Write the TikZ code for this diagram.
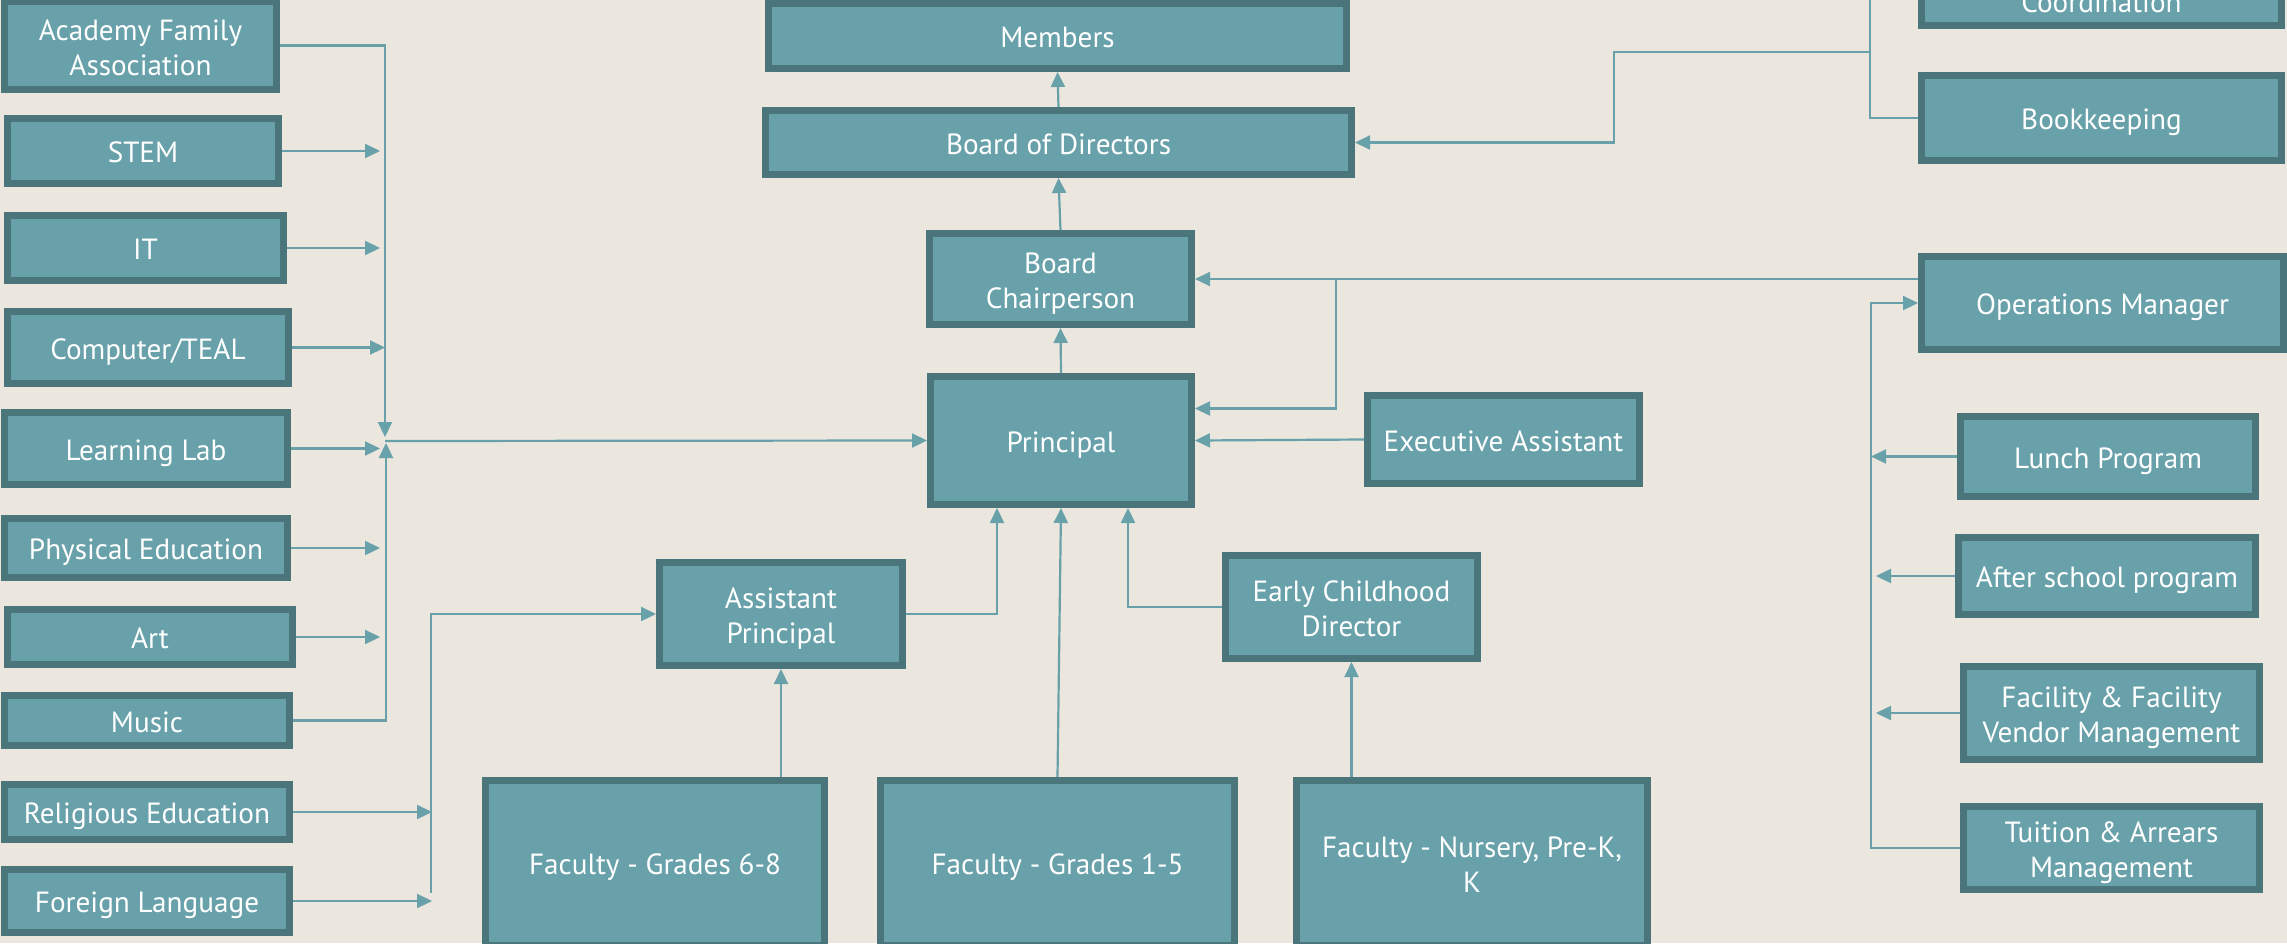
\documentclass[tikz,border=0pt]{standalone}
\usepackage{fontspec}
\setmainfont{PT Sans}
\usetikzlibrary{arrows.meta}
\definecolor{bgc}{RGB}{235,231,222}
\definecolor{fillc}{RGB}{104,161,170}
\definecolor{edgec}{RGB}{74,117,123}
\definecolor{linec}{RGB}{104,161,170}
\newcommand\mystrut{\rule[-7.4pt]{0pt}{38.4pt}}
\newcommand\mystrute{\rule[-7.4pt]{0pt}{1pt}}
\newcommand\twol[2]{\begin{tabular}{@{}c@{}}\rule{0pt}{35pt}#1\\#2\end{tabular}}
\newcommand\mybox[7]{\node[#1, minimum width={#4-#3-7}, minimum height={#6-#5-7}] (#2) at ({(#3+#4)/2},{(#5+#6)/2}) {#7};}
\begin{document}
\begin{tikzpicture}[x=1pt,y=-1pt,
 box/.style={draw=edgec, fill=fillc, line width=7pt, text=white, inner sep=0pt, align=center,
   font=\fontsize{29.2}{35}\selectfont,
   execute at begin node=\mystrut, execute at end node=\mystrute},
 conn/.style={draw=linec, line width=2.2pt},
 arr/.style={conn, -{Triangle[length=15pt,width=14pt]}}]
\useasboundingbox (0,0) rectangle (2287,943);
\fill[bgc] (0,0) rectangle (2287,943);
% center column
\mybox{box}{members}{765}{1350}{0}{72}{Members}
\mybox{box}{bod}{762}{1355}{107}{178}{Board of Directors}
\mybox{box}{bc}{926}{1195}{230}{328}{\twol{Board}{Chairperson}}
\mybox{box}{principal}{927}{1195}{373}{508}{Principal}
\mybox{box}{ea}{1364}{1643}{392}{487}{Executive Assistant}
\mybox{box}{ap}{656}{906}{559}{669}{\twol{Assistant}{Principal}}
\mybox{box}{ecd}{1222}{1481}{552}{662}{\twol{Early Childhood}{Director}}
\mybox{box}{f68}{482}{828}{777}{949}{Faculty - Grades 6-8}
\mybox{box}{f15}{877}{1238}{777}{949}{Faculty - Grades 1-5}
\mybox{box}{fn}{1293}{1651}{777}{949}{\twol{Faculty - Nursery, Pre-K,}{K}}
% right column
\mybox{box}{coord}{1918}{2285}{-63}{29}{\twol{}{Coordination}}
\mybox{box}{bk}{1918}{2285}{72}{164}{Bookkeeping}
\mybox{box}{om}{1918}{2287}{253}{353}{Operations Manager}
\mybox{box}{lp}{1957}{2259}{413}{500}{Lunch Program}
\mybox{box}{asp}{1955}{2259}{534}{618}{After school program}
\mybox{box}{fac}{1960}{2263}{663}{763}{\twol{Facility \& Facility}{Vendor Management}}
\mybox{box}{tu}{1960}{2263}{803}{893}{\twol{Tuition \& Arrears}{Management}}
% left column
\mybox{box}{afa}{1}{280}{-2}{93}{\twol{Academy Family}{Association}}
\mybox{box}{stem}{4}{282}{115}{187}{STEM}
\mybox{box}{it}{4}{287}{212}{284}{IT}
\mybox{box}{ct}{4}{292}{308}{387}{Computer/TEAL}
\mybox{box}{ll}{1}{291}{409}{488}{Learning Lab}
\mybox{box}{pe}{1}{291}{515}{581}{Physical Education}
\mybox{box}{art}{4}{296}{606}{668}{Art}
\mybox{box}{music}{1}{293}{692}{749}{Music}
\mybox{box}{re}{1}{293}{781}{843}{Religious Education}
\mybox{box}{fl}{1}{293}{866}{936}{Foreign Language}
% helper coordinates
\coordinate (tipL) at (380,0);
\coordinate (jtop) at (385,437);
\coordinate (jbot) at (386,443);
\coordinate (jmid) at (385,441);
\coordinate (tipR) at (432,0);
\coordinate (jap) at (431,893);
\coordinate (pax) at (997,0);
\coordinate (ecx) at (1128,0);
\coordinate (jom) at (1336,280);
\coordinate (omx) at (1871,0);
\coordinate (omx2) at (1876,0);
\coordinate (bkx) at (1870,0);
\coordinate (jb) at (1870,52);
\coordinate (bdx) at (1614,52);
% left connectors
\draw[arr] (afa.east) -| (jtop);
\draw[arr] (stem.east) -- (stem.east -| tipL);
\draw[arr] (it.east) -- (it.east -| tipL);
\draw[arr] (ct.east) -- (ct.east -| jmid);
\draw[arr] (ll.east) -- (ll.east -| tipL);
\draw[arr] (pe.east) -- (pe.east -| tipL);
\draw[arr] (art.east) -- (art.east -| tipL);
\draw[arr] (music.east) -| (jbot);
\draw[arr] (jmid) -- (principal.west);
\draw[arr] (re.east) -- (re.east -| tipR);
\draw[arr] (fl.east) -- (fl.east -| tipR);
\draw[arr] (jap) |- (ap.west);
% center connectors
\draw[arr] (ap.south |- f68.north) -- (ap.south);
\draw[arr] (ap.east) -| (pax |- principal.south);
\draw[arr] (f15.north) -- (principal.south);
\draw[arr] (ecd.south |- fn.north) -- (ecd.south);
\draw[arr] (ecd.west) -| (ecx |- principal.south);
\draw[arr] (ea.west) -- (principal.east);
\draw[arr] (principal.north) -- (bc.south);
\draw[arr] (bc.north) -- (bod.south);
\draw[arr] (bod.north) -- (members.south);
% right connectors
\draw[arr] (om.west |- bc.east) -- (bc.east);
\draw[arr] (jom) |- ([yshift=32pt]principal.east);
\draw[arr] (tu.west) -- (tu.west -| omx) -- (omx |- om.west) -- (om.west);
\draw[arr] (lp.west) -- (lp.west -| omx);
\draw[arr] (asp.west) -- (asp.west -| omx2);
\draw[arr] (fac.west) -- (fac.west -| omx2);
\draw[conn] (coord.west) -| (bkx |- bk.west) -- (bk.west);
\draw[arr] (jb) -- (bdx) |- (bod.east);
\end{tikzpicture}
\end{document}
